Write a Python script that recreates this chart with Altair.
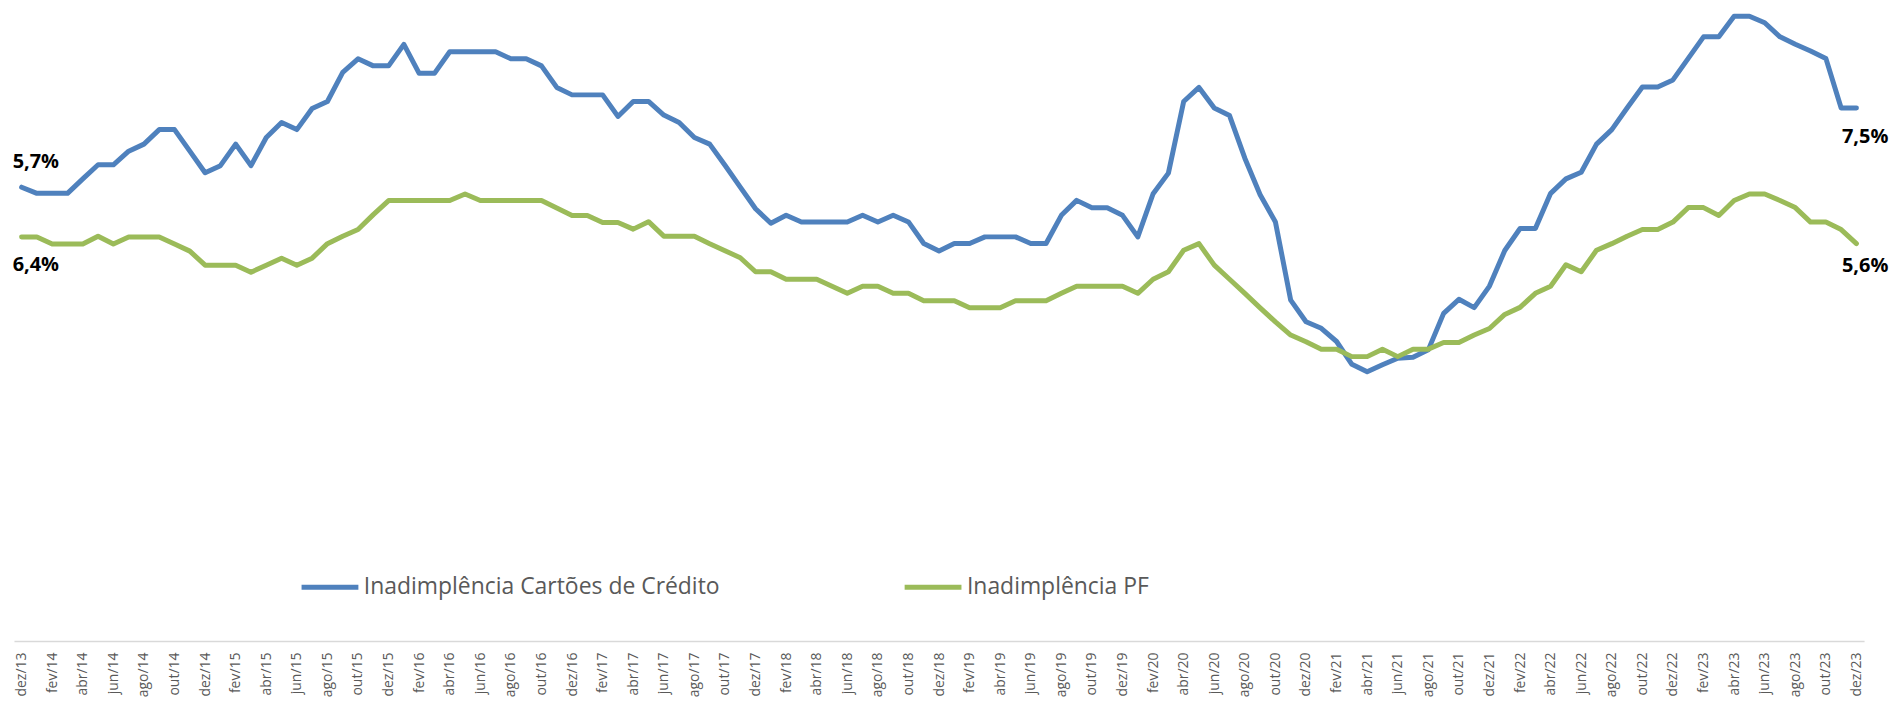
import altair as alt
import pandas as pd

# ---------------- data ----------------
MESES = ["jan", "fev", "mar", "abr", "mai", "jun", "jul", "ago", "set", "out", "nov", "dez"]
months = ["dez/13"] + [f"{m}/{y}" for y in range(14, 24) for m in MESES]

cartoes = [
    5.70, 5.56, 5.56, 5.56, 5.89, 6.21, 6.21, 6.52, 6.68, 7.01,
    7.01, 6.52, 6.03, 6.19, 6.68, 6.19, 6.83, 7.17, 7.01, 7.49,
    7.65, 8.31, 8.62, 8.46, 8.46, 8.95, 8.29, 8.29, 8.78, 8.78,
    8.78, 8.78, 8.62, 8.62, 8.46, 7.97, 7.80, 7.80, 7.80, 7.31,
    7.65, 7.65, 7.34, 7.17, 6.83, 6.68, 6.20, 5.70, 5.21, 4.88,
    5.06, 4.91, 4.91, 4.91, 4.91, 5.06, 4.91, 5.06, 4.91, 4.42,
    4.25, 4.42, 4.42, 4.57, 4.57, 4.57, 4.42, 4.42, 5.06, 5.40,
    5.23, 5.23, 5.06, 4.57, 5.55, 6.02, 7.65, 7.97, 7.50, 7.33,
    6.36, 5.53, 4.91, 3.13, 2.64, 2.49, 2.19, 1.67, 1.50, 1.66,
    1.81, 1.83, 2.00, 2.83, 3.15, 2.96, 3.45, 4.26, 4.76, 4.76,
    5.56, 5.89, 6.04, 6.68, 7.01, 7.50, 7.98, 7.98, 8.14, 8.63,
    9.12, 9.12, 9.59, 9.59, 9.44, 9.12, 8.95, 8.80, 8.63, 7.50,
    7.50,
]

pf = [
    6.40, 6.40, 6.24, 6.24, 6.24, 6.42, 6.24, 6.40, 6.40, 6.40,
    6.24, 6.08, 5.76, 5.76, 5.76, 5.60, 5.76, 5.92, 5.76, 5.92,
    6.25, 6.42, 6.57, 6.91, 7.23, 7.23, 7.23, 7.23, 7.23, 7.38,
    7.23, 7.23, 7.23, 7.23, 7.23, 7.06, 6.89, 6.89, 6.73, 6.73,
    6.58, 6.75, 6.42, 6.42, 6.42, 6.25, 6.09, 5.93, 5.61, 5.61,
    5.44, 5.44, 5.44, 5.28, 5.12, 5.28, 5.28, 5.12, 5.12, 4.95,
    4.95, 4.95, 4.79, 4.79, 4.79, 4.95, 4.95, 4.95, 5.12, 5.28,
    5.28, 5.28, 5.28, 5.12, 5.44, 5.61, 6.10, 6.25, 5.76, 5.44,
    5.12, 4.79, 4.47, 4.17, 4.02, 3.85, 3.85, 3.68, 3.68, 3.85,
    3.68, 3.85, 3.85, 4.00, 4.00, 4.17, 4.32, 4.64, 4.80, 5.12,
    5.28, 5.77, 5.61, 6.10, 6.25, 6.42, 6.57, 6.57, 6.74, 7.07,
    7.07, 6.89, 7.23, 7.38, 7.38, 7.23, 7.07, 6.74, 6.74, 6.57,
    6.25,
]

series_names = ["Inadimplência Cartões de Crédito", "Inadimplência PF"]
series_colors = ["#4f81bd", "#9bbb59"]

labels_cartoes = ["5,7%", "7,5%"]   # first / last point
labels_pf = ["6,4%", "5,6%"]        # first / last point

# ---------------- layout constants ----------------
W, H = 1856, 634
FONT = "Open Sans"
DOM_CARTOES = [-4.625, 9.751]
DOM_PF = [-2.791, 11.585]

df_c = pd.DataFrame({"month": months, "value": cartoes, "series": series_names[0]})
df_p = pd.DataFrame({"month": months, "value": pf, "series": series_names[1]})

lab_c = pd.DataFrame({"month": [months[0], months[-1]], "value": [cartoes[0], cartoes[-1]],
                      "text": labels_cartoes, "pos": ["start", "end"]})
lab_p = pd.DataFrame({"month": [months[0], months[-1]], "value": [pf[0], pf[-1]],
                      "text": labels_pf, "pos": ["start", "end"]})

x_enc = alt.X(
    "month:O",
    sort=months,
    scale=alt.Scale(type="point", padding=0.5),
    axis=alt.Axis(
        values=months[::2],
        labelAngle=270,
        ticks=False,
        domainColor="#d9d9d9",
        domainWidth=1.5,
        labelFont=FONT,
        labelFontSize=14,
        labelColor="#595959",
        labelPadding=11,
        labelOverlap=False,
        grid=False,
        title=None,
    ),
)

color_enc = alt.Color(
    "series:N",
    scale=alt.Scale(domain=series_names, range=series_colors),
    legend=alt.Legend(
        orient="none",
        legendX=286,
        legendY=549,
        direction="horizontal",
        title=None,
        symbolType="stroke",
        symbolSize=3249,
        symbolStrokeWidth=5,
        labelFont=FONT,
        labelFontSize=23,
        labelColor="#595959",
        labelOffset=3,
        columnPadding=174,
        padding=0,
        labelLimit=600,
    ),
)


def line_layer(df, dom):
    return alt.Chart(df).mark_line(
        strokeWidth=5, strokeCap="round", strokeJoin="round"
    ).encode(
        x=x_enc,
        y=alt.Y("value:Q", scale=alt.Scale(domain=dom, zero=False, nice=False), axis=None),
        color=color_enc,
    )


def text_layer(df, dom, pos, align, dx, dy):
    return alt.Chart(df).transform_filter(
        alt.datum.pos == pos
    ).mark_text(
        font=FONT, fontSize=20, fontWeight="bold", color="#000000",
        align=align, baseline="middle", dx=dx, dy=dy,
    ).encode(
        x=x_enc,
        y=alt.Y("value:Q", scale=alt.Scale(domain=dom, zero=False, nice=False), axis=None),
        text="text:N",
    )


chart = alt.layer(
    line_layer(df_c, DOM_CARTOES),
    text_layer(lab_c, DOM_CARTOES, "start", "left", -9, -25),
    text_layer(lab_c, DOM_CARTOES, "end", "right", 32, 29),
    line_layer(df_p, DOM_PF),
    text_layer(lab_p, DOM_PF, "start", "left", -9, 28),
    text_layer(lab_p, DOM_PF, "end", "right", 32, 22),
).resolve_scale(
    y="independent"
).properties(
    width=W,
    height=H,
    autosize=alt.AutoSizeParams(type="none"),
    padding={"left": 6, "top": 0, "right": 28, "bottom": 64},
    background="white",
).configure_view(
    stroke=None
)

chart.save("out.html", embed_options={"renderer": "svg", "actions": False})
